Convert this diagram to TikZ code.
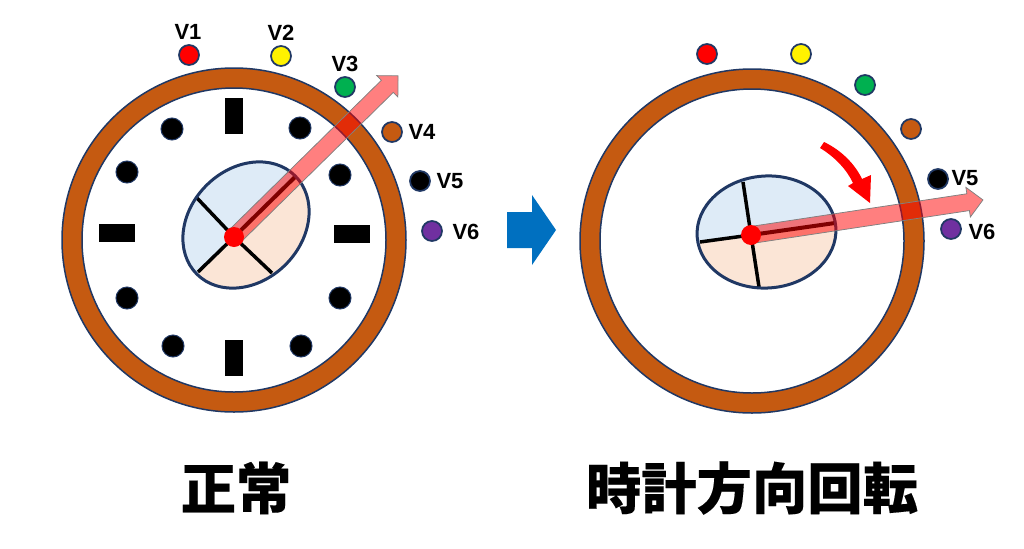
\documentclass[tikz,border=0pt]{standalone}
\usepackage{fontspec}
\setmainfont{Liberation Sans}
\newfontfamily\cjk[FakeBold=0.2]{Noto Sans CJK JP Medium}
\definecolor{ringbrown}{HTML}{C55A11}
\definecolor{edgeblue}{HTML}{203864}
\definecolor{halfblue}{HTML}{DEEBF7}
\definecolor{halforange}{HTML}{FBE5D6}
\definecolor{bigblue}{HTML}{0070C0}
\definecolor{vgreen}{HTML}{00B050}
\definecolor{vpurple}{HTML}{7030A0}
\tikzset{
  vdot/.style={circle,draw=edgeblue,line width=.35mm,minimum size=.4cm,inner sep=0pt},
  vlabel/.style={font=\bfseries\fontsize{12.5}{13}\selectfont,inner sep=0pt},
  title/.style={font=\cjk\bfseries\fontsize{31.5}{34}\selectfont,inner sep=0pt}
}
\begin{document}
\begin{tikzpicture}[x=.02cm,y=-.02cm]
\useasboundingbox (0,0) rectangle (1024,548);
% rings
\foreach \x/\y in {234/240,752/241} {
  \draw[edgeblue,line width=.3mm,fill=ringbrown] (\x,\y) circle[radius=172];
  \draw[edgeblue,line width=.3mm,fill=white] (\x,\y) circle[radius=152];
}
% marks, left ring only
\foreach \x/\y in {172/129,300/128,127/172,340/175,127/298,340/298,173/346,301/346}
  \draw[edgeblue,line width=.2mm,fill=black] (\x,\y) circle[radius=11];
\foreach \x/\y in {234/116,234/358}
  \fill[black] (\x-9,\y-18) rectangle (\x+9,\y+18);
\foreach \x/\y in {117/233,352/234}
  \fill[black] (\x-18,\y-9) rectangle (\x+18,\y+9);
% wheels
\foreach \ex/\ey/\er/\hx/\hy/\ang in {246/225/45/234/237/44.5,766.5/232/4/751/235/8.6} {
  \begin{scope}
    \clip (\ex,\ey) ellipse[x radius=69.5,y radius=56,rotate=\er];
    \fill[halfblue] (\ex-100,\ey-100) rectangle (\ex+100,\ey+100);
    \begin{scope}[shift={(\hx,\hy)},rotate=\ang]
      \fill[halforange] (-200,0) rectangle (200,200);
    \end{scope}
  \end{scope}
}
% spokes
\foreach \hx/\hy/\sx/\sy in {234/237/197/198,234/237/198/272,234/237/272/273,751/235/743/182,751/235/700/242,751/235/759/287}
  \draw[black,line width=.7mm] (\hx,\hy) -- (\sx,\sy);
\draw[black,line width=.8mm] (234,237) -- (295,177);
\draw[black,line width=.8mm] (751,235) -- (835,223);
\foreach \ex/\ey/\er in {246/225/45,766.5/232/4}
  \draw[edgeblue,line width=.6mm] (\ex,\ey) ellipse[x radius=69.5,y radius=56,rotate=\er];
% vectors
\foreach \hx/\hy/\ang/\len in {234/237/44.5/230,751/235/8.6/234.6} {
  \begin{scope}[shift={(\hx,\hy)},rotate=\ang]
    \draw[draw=gray,line width=.15mm,fill=red,fill opacity=.5] (0,-8.5) -- (\len-15,-8.5) -- (\len-15,-15) -- (\len,0) -- (\len-15,15) -- (\len-15,8.5) -- (0,8.5) -- cycle;
  \end{scope}
}
\fill[red] (234,237) circle[radius=10];
\fill[red] (751,235) circle[radius=10];
% left vertices
\node[vdot,fill=red] (v1) at (189,55) {};
\node[vdot,fill=yellow] (v2) at (281,56) {};
\node[vdot,fill=vgreen] (v3) at (345,87) {};
\node[vdot,fill=ringbrown] (v4) at (392,132) {};
\node[vdot,fill=black] (v5) at (420,181) {};
\node[vdot,fill=vpurple] (v6) at (432,231) {};
\node[vlabel] at (188,32) {V1};
\node[vlabel] at (281,33) {V2};
\node[vlabel] at (345,64) {V3};
\node[vlabel] at (422,132) {V4};
\node[vlabel] at (450,181) {V5};
\node[vlabel] at (466,232) {V6};
% right vertices
\node[vdot,fill=red] (w1) at (707,54) {};
\node[vdot,fill=yellow] (w2) at (801,54) {};
\node[vdot,fill=vgreen] (w3) at (865,85) {};
\node[vdot,fill=ringbrown] (w4) at (911,129) {};
\node[vdot,fill=black] (w5) at (938,179) {};
\node[vdot,fill=vpurple] (w6) at (951,229) {};
\node[vlabel] at (965,178) {V5};
\node[vlabel] at (982,232) {V6};
% red turn arrow
\fill[red] (820,148) .. controls (835,157) and (847,170) .. (853,183) -- (848,186) -- (870,203) -- (871,175) -- (862,179) .. controls (855,164) and (841,150) .. (824,142) -- cycle;
% big arrow
\fill[bigblue] (507,212) -- (532,212) -- (532,195) -- (556,230) -- (532,265) -- (532,248) -- (507,248) -- cycle;
% titles
\node[title] (normal) at (236,488) {正常};
\node[title] (turned) at (752,488) {時計方向回転};
\end{tikzpicture}
\end{document}
